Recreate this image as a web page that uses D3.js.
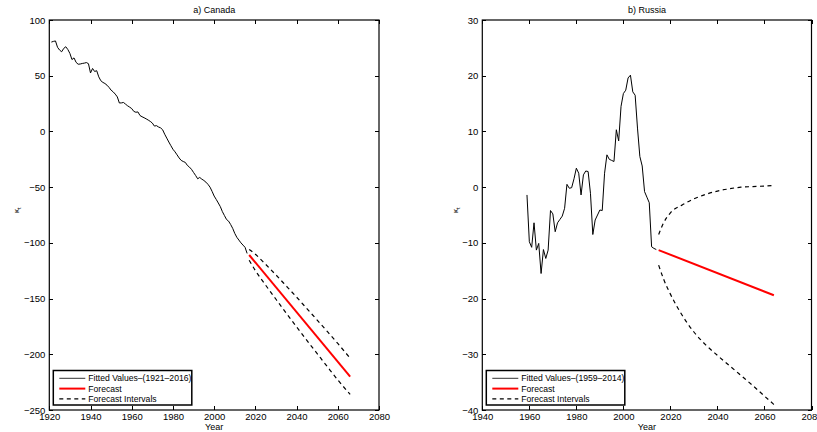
<!DOCTYPE html>
<meta charset="utf-8">
<head>
    <title>Lee-Carter kappa forecasts</title>
    <style>
        body {
            margin: 0;
            background: #ffffff;
            font-family: "Liberation Sans", Arial, sans-serif;
        }
        .axis path {
            display: none;
        }
        .axis line {
            stroke: #000;
            stroke-width: 1px;
            shape-rendering: crispEdges;
        }
        .axis text {
            font-size: 9.5px;
            fill: #000;
        }
        .frame {
            fill: none;
            stroke: #000;
            stroke-width: 1.2px;
        }
        .fitted {
            fill: none;
            stroke: #000;
            stroke-width: 1px;
        }
        .forecast {
            fill: none;
            stroke: #ff0000;
            stroke-width: 2px;
        }
        .interval {
            fill: none;
            stroke: #000;
            stroke-width: 1.2px;
            stroke-dasharray: 4, 3.5;
        }
        .title, .xlabel {
            font-size: 9px;
            text-anchor: middle;
        }
        .ylabel {
            font-size: 8px;
        }
        .legend rect {
            fill: #fff;
            stroke: #000;
            stroke-width: 1.5px;
        }
        .legend text {
            font-size: 8.6px;
        }
    </style>
</head>
<body>
<svg width="817" height="432"></svg>

<script src="https://d3js.org/d3.v7.min.js"></script>
<script>
    // ---- Canada (1921-2016) ----
    var canadaStart = 1921;
    var canadaFitted = [
        80.2, 80.8, 81.2, 75.5, 73.0, 71.5, 74.5, 76.0, 73.5, 70.0,
        64.5, 66.0, 62.0, 60.3, 60.5, 61.0, 61.3, 61.8, 60.8, 52.5,
        56.5, 53.8, 54.5, 49.0, 45.5, 44.0, 43.0, 41.5, 39.5, 37.0,
        35.5, 33.5, 31.0, 25.5, 25.6, 26.0, 24.5, 23.0, 21.8, 20.5,
        18.0, 17.2, 17.5, 14.3, 13.2, 12.3, 11.3, 10.2, 9.0, 7.5,
        4.8, 5.2, 4.0, 3.2, 1.5, -2.5, -6.0, -9.5, -12.8, -16.0,
        -18.3, -21.0, -23.8, -26.0, -27.0, -27.8, -30.5, -32.0, -34.0, -36.8,
        -39.5, -42.5, -41.3, -42.8, -44.0, -45.5, -47.5, -50.0, -53.8, -58.0,
        -61.0, -64.2, -67.5, -72.0, -75.5, -79.0, -80.5, -83.5, -87.0, -91.5,
        -95.0, -97.5, -100.0, -102.0, -104.0, -109.5
    ];
    var canadaForecastYears = [2017, 2066];
    var canadaForecast = [-110.9, -220.0];
    var canadaBandYears = [2017, 2020, 2025, 2030, 2035, 2040, 2045, 2050, 2055, 2060, 2066];
    var canadaUpper = [-105.9, -110.2, -119.3, -128.8, -138.7, -148.7, -159.0, -169.3, -179.7, -190.3, -203.5];
    var canadaLower = [-115.6, -124.9, -138.0, -150.6, -163.2, -175.4, -187.5, -199.4, -211.3, -223.0, -236.0];
    var canadaXTicks = [1920, 1940, 1960, 1980, 2000, 2020, 2040, 2060, 2080];
    var canadaYTicks = [100, 50, 0, -50, -100, -150, -200, -250];

    // ---- Russia (1959-2014) ----
    var russiaStart = 1959;
    var russiaFitted = [
        -1.4, -9.8, -10.8, -6.4, -11.3, -10.1, -15.5, -11.2, -12.8, -11.3,
        -4.2, -4.8, -8.0, -6.4, -5.8, -5.2, -3.8, 0.5, -0.2, -0.1,
        1.5, 3.4, 2.5, -1.4, 2.2, 2.9, 2.8, -1.1, -8.5, -5.9,
        -5.0, -4.1, -4.2, 2.5, 5.8, 5.0, 4.8, 4.6, 10.3, 8.3,
        14.5, 16.8, 17.4, 19.6, 20.1, 17.1, 16.5, 10.6, 5.5, 3.8,
        -0.8, -1.8, -2.8, -10.7, -11.0, -11.2
    ];
    var russiaForecastYears = [2015, 2064];
    var russiaForecast = [-11.3, -19.4];
    var russiaBandYears = [2015, 2017, 2020, 2025, 2030, 2035, 2040, 2045, 2050, 2055, 2060, 2064];
    var russiaUpper = [-8.5, -6.5, -4.6, -3.2, -2.1, -1.3, -0.7, -0.3, 0.0, 0.1, 0.2, 0.3];
    var russiaLower = [-14.0, -16.4, -19.2, -23.0, -26.0, -28.3, -30.2, -32.0, -33.8, -35.6, -37.5, -39.0];
    var russiaXTicks = [1940, 1960, 1980, 2000, 2020, 2040, 2060, 2080];
    var russiaYTicks = [30, 20, 10, 0, -10, -20, -30, -40];

    var svg = d3.select("svg");

    function drawPanel(p) {
        var width = p.right - p.left,
            height = 390;

        var x = d3.scaleLinear().domain(d3.extent(p.xTicks)).range([0, width]);
        var y = d3.scaleLinear().domain(d3.extent(p.yTicks)).range([height, 0]);

        var g = svg.append("g")
            .attr("transform", "translate(" + p.left + "," + 20 + ")");

        // inward ticks on all four sides, matlab style
        g.append("g")
            .attr("class", "axis")
            .attr("transform", "translate(0," + height + ")")
            .call(d3.axisBottom(x).tickValues(p.xTicks).tickFormat(d3.format("d")).tickSize(-4).tickPadding(3));
        g.append("g")
            .attr("class", "axis")
            .call(d3.axisTop(x).tickValues(p.xTicks).tickFormat("").tickSize(-4));
        g.append("g")
            .attr("class", "axis")
            .call(d3.axisLeft(y).tickValues(p.yTicks).tickSize(-4).tickPadding(4));
        g.append("g")
            .attr("class", "axis")
            .attr("transform", "translate(" + width + ",0)")
            .call(d3.axisRight(y).tickValues(p.yTicks).tickFormat("").tickSize(-4));

        g.append("rect")
            .attr("class", "frame")
            .attr("width", width)
            .attr("height", height);

        var line = d3.line()
            .x(function(d) { return x(d[0]); })
            .y(function(d) { return y(d[1]); });
        var smooth = d3.line()
            .curve(d3.curveMonotoneX)
            .x(function(d) { return x(d[0]); })
            .y(function(d) { return y(d[1]); });

        var fitted = p.fitted.map(function(v, i) { return [p.start + i, v]; });
        var zip = function(xs, ys) { return xs.map(function(v, i) { return [v, ys[i]]; }); };

        g.append("path").attr("class", "fitted").attr("d", line(fitted));
        g.append("path").attr("class", "interval").attr("d", smooth(zip(p.bandYears, p.upper)));
        g.append("path").attr("class", "interval").attr("d", smooth(zip(p.bandYears, p.lower)));
        g.append("path").attr("class", "forecast").attr("d", line(zip(p.forecastYears, p.forecast)));

        // titles
        g.append("text")
            .attr("class", "title")
            .attr("x", width / 2)
            .attr("y", -7)
            .text(p.title);
        g.append("text")
            .attr("class", "xlabel")
            .attr("x", width / 2)
            .attr("y", height + 20)
            .text("Year");
        var yl = g.append("text")
            .attr("class", "ylabel")
            .attr("transform", "translate(" + p.ylabelX + "," + (height / 2 - 2) + ") rotate(-90)");
        yl.append("tspan").text("\u03ba");
        yl.append("tspan").attr("dy", 2).attr("font-size", "6px").text("t");

        // legend
        var leg = g.append("g")
            .attr("class", "legend")
            .attr("transform", "translate(4," + (height - 39.5) + ")");
        leg.append("rect").attr("width", 138.5).attr("height", 34.5);
        var items = [
            {label: p.legendFitted, cls: "fitted"},
            {label: "Forecast", cls: "forecast"},
            {label: "Forecast Intervals", cls: "interval"}
        ];
        items.forEach(function(d, i) {
            var yy = 7.8 + i * 10.3;
            leg.append("line")
                .attr("class", d.cls)
                .attr("x1", 6).attr("x2", 32)
                .attr("y1", yy).attr("y2", yy)
                .style("stroke", d.cls === "fitted" ? "#333" : null);
            leg.append("text")
                .attr("x", 35)
                .attr("y", yy + 3)
                .text(d.label);
        });
    }

    drawPanel({
        left: 49.3, right: 379, title: "a) Canada", ylabelX: -30,
        start: canadaStart, fitted: canadaFitted,
        forecastYears: canadaForecastYears, forecast: canadaForecast,
        bandYears: canadaBandYears, upper: canadaUpper, lower: canadaLower,
        xTicks: canadaXTicks, yTicks: canadaYTicks,
        legendFitted: "Fitted Values\u2013(1921\u20132016)"
    });

    drawPanel({
        left: 482.3, right: 811.5, title: "b) Russia", ylabelX: -24,
        start: russiaStart, fitted: russiaFitted,
        forecastYears: russiaForecastYears, forecast: russiaForecast,
        bandYears: russiaBandYears, upper: russiaUpper, lower: russiaLower,
        xTicks: russiaXTicks, yTicks: russiaYTicks,
        legendFitted: "Fitted Values\u2013(1959\u20132014)"
    });
</script>
</body>
